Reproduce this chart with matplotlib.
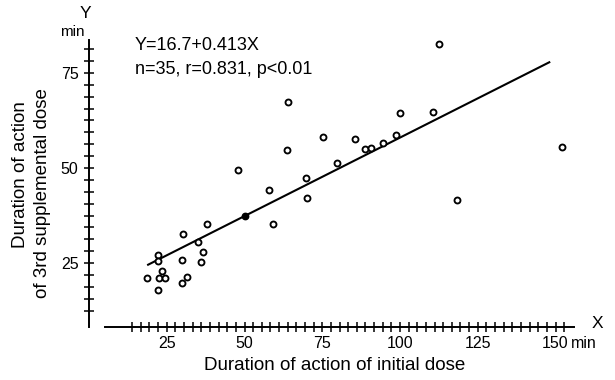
import matplotlib
matplotlib.use('Agg')
import matplotlib.pyplot as plt
import numpy as np

plt.rcParams['font.family'] = ['Liberation Sans', 'DejaVu Sans']

# duration of action of initial dose (min) vs 3rd supplemental dose (min)
initial_dose = [22.3, 22.3, 30.3, 38.0, 35.1, 36.8, 35.9, 30.0, 18.6, 23.4,
                22.5, 24.4, 31.4, 29.8, 22.3, 48.0, 57.9, 59.1, 64.1, 63.6,
                69.8, 70.0, 75.1, 79.6, 85.5, 88.7, 90.7, 94.4, 98.7, 100.0,
                112.5, 110.7, 152.0, 118.2]
third_dose = [27.1, 25.5, 32.6, 35.2, 30.6, 27.8, 25.2, 25.8, 21.1, 23.0,
              21.1, 21.1, 21.4, 19.7, 17.9, 49.5, 44.2, 35.2, 67.4, 54.7,
              47.4, 42.0, 58.1, 51.4, 57.6, 55.0, 55.2, 56.5, 58.7, 64.6,
              82.6, 64.7, 55.6, 41.6]
# the one point drawn filled, sitting on the line
filled_x = [50.3]
filled_y = [37.4]

intercept = 16.7
slope = 0.413
line_x = np.array([19, 148])

x_major = [25, 50, 75, 100, 125, 150]
y_major = [25, 50, 75]

fig = plt.figure(figsize=(6.15, 3.8), dpi=100)
ax = fig.add_axes([89 / 615, 22 / 380, 497.6 / 615, 342 / 380])
ax.set_xlim(0, 160)
ax.set_ylim(0, 90)
ax.patch.set_visible(False)

ax.plot(line_x, intercept + slope * line_x, color='black', lw=1.5)
ax.plot(initial_dose, third_dose, 'o', ms=4.3, mfc='white', mec='black', mew=1.35)
ax.plot(filled_x, filled_y, 'o', ms=4.6, mfc='black', mec='black')

# axes drawn as two separate lines that do not meet
for side in ['top', 'right']:
    ax.spines[side].set_visible(False)
ax.spines['left'].set_position(('data', 0))
ax.spines['left'].set_bounds(8.2, 83.7)
ax.spines['bottom'].set_position(('data', 8.2))
ax.spines['bottom'].set_bounds(5.1, 156)
ax.spines['left'].set_linewidth(1.4)
ax.spines['bottom'].set_linewidth(1.4)

def tick_labels(ticks, major):
    out = []
    for t in ticks:
        r = int(round(t))
        out.append(str(r) if r in major and abs(t - r) < 1e-6 else '')
    return out

xt = [i * 25 / 9 for i in range(5, 56)]
ax.set_xticks(xt, tick_labels(xt, x_major))
yt = [i * 25 / 8 for i in range(4, 27)]
ax.set_yticks(yt, tick_labels(yt, y_major))
ax.tick_params(axis='both', direction='inout', length=7, width=1.1, labelsize=11.5)
ax.tick_params(axis='x', pad=3)
ax.tick_params(axis='y', pad=4)

# "min" unit after the 150 label, on the same line as the tick labels
trans, va, ha = ax.get_xaxis_text1_transform(3 + 3.5)
ax.text(155, 0, 'min', transform=trans, va=va, ha='left', fontsize=11.5)

fig.text(597 / 615, 1 - 323 / 380, 'X', fontsize=12.5, ha='center', va='center')
fig.text(85 / 615, 1 - 13 / 380, 'Y', fontsize=12.5, ha='center', va='center')
fig.text(85 / 615, 1 - 32 / 380, 'min', fontsize=11, ha='right', va='center')

fig.text(135 / 615, 1 - 45 / 380, 'Y=16.7+0.413X', fontsize=13, ha='left', va='center')
fig.text(135 / 615, 1 - 70 / 380, 'n=35, r=0.831, p<0.01', fontsize=13, ha='left', va='center')

fig.text(335 / 615, 1 - 365 / 380, 'Duration of action of initial dose', fontsize=13.5,
         ha='center', va='center')
fig.text(21 / 615, 1 - 175 / 380, 'Duration of action', fontsize=13.5, rotation=90,
         ha='center', va='center')
fig.text(43 / 615, 1 - 193 / 380, 'of 3rd supplemental dose', fontsize=13.5, rotation=90,
         ha='center', va='center')

plt.savefig('out.png', dpi=100)
